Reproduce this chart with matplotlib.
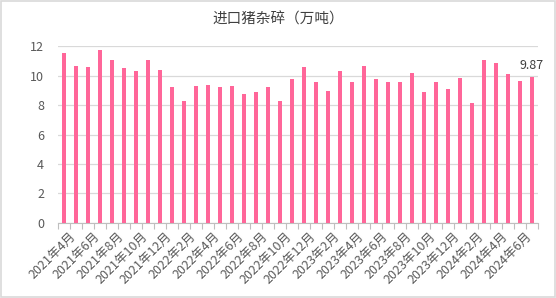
import numpy as np
import matplotlib
matplotlib.use('Agg')
import matplotlib.pyplot as plt
from matplotlib.patches import Rectangle
from matplotlib.transforms import ScaledTranslation

plt.rcParams['font.family'] = ['Noto Sans CJK SC', 'DejaVu Sans']

# 月份：2021年4月 ~ 2024年7月
months = []
for y in range(2021, 2025):
    for m in range(1, 13):
        if (y == 2021 and m < 4) or (y == 2024 and m > 7):
            continue
        months.append(f'{y}年{m}月')

# 进口猪杂碎（万吨）
values = [11.55, 10.67, 10.60, 11.73, 11.05, 10.51, 10.31, 11.05, 10.38, 9.23,
          8.30, 9.29, 9.36, 9.23, 9.29, 8.75, 8.89, 9.23, 8.29, 9.77,
          10.58, 9.56, 8.96, 10.31, 9.56, 10.65, 9.77, 9.56, 9.56, 10.17,
          8.89, 9.56, 9.09, 9.84, 8.14, 11.05, 10.85, 10.11, 9.63, 9.87]

bar_color = '#FF6699'
text_color = '#595959'

fig = plt.figure(figsize=(5.56, 2.98), dpi=100)
ax = fig.add_axes([0.1043, 0.2517, 0.8633, 0.5939])

x = np.arange(len(months))
ax.bar(x, values, width=0.33, color=bar_color, zorder=3)

# 最后一个数据标签
ax.text(x[-1], values[-1] + 0.35, f'{values[-1]:.2f}', ha='center', va='bottom',
        fontsize=9, color='#404040')

ax.set_xlim(-0.5, len(months) - 0.5)
ax.set_ylim(0, 12)
ax.set_yticks(range(0, 13, 2))
ax.yaxis.grid(True, color='#D9D9D9', linewidth=0.9, zorder=0)
ax.tick_params(axis='y', length=0, labelsize=9, labelcolor=text_color, pad=10)

# 类别标签每隔一个显示
ax.set_xticks(x[::2])
ax.set_xticklabels(months[::2], rotation=45, ha='right', rotation_mode='anchor',
                   fontsize=9, color=text_color)
ax.tick_params(axis='x', length=0, pad=5)
offset = ScaledTranslation(5 / 100, 0, fig.dpi_scale_trans)
for lab in ax.get_xticklabels():
    lab.set_transform(lab.get_transform() + offset)
# 刻度线位于类别之间
ax.set_xticks(np.arange(-0.5, len(months), 1), minor=True)
ax.tick_params(axis='x', which='minor', length=4, color='#BFBFBF', width=0.8)

for s in ['top', 'right', 'left']:
    ax.spines[s].set_visible(False)
ax.spines['bottom'].set_color('#BFBFBF')

fig.text(0.5, 0.935, '进口猪杂碎（万吨）', ha='center', va='center',
         fontsize=10.5, color='#404040')

fig.patches.append(Rectangle((0.001, 0.002), 0.997, 0.995, transform=fig.transFigure,
                             fill=False, edgecolor='#D9D9D9', linewidth=1.2))

fig.savefig('out.png', dpi=100)
